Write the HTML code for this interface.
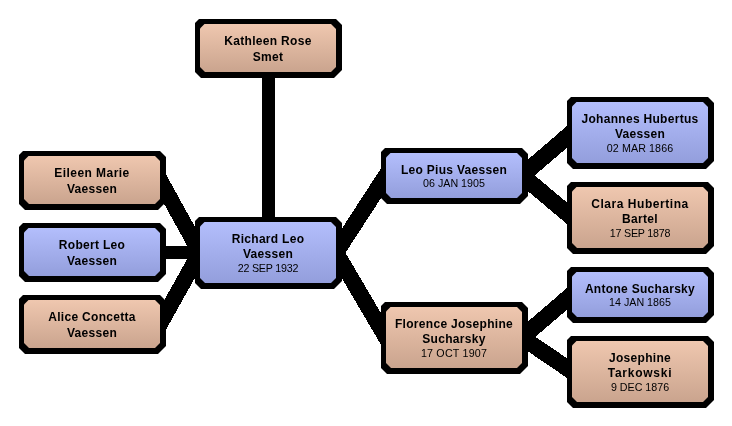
<!DOCTYPE html><html><head><meta charset="utf-8"><style>
html,body{margin:0;padding:0;background:#fff;width:732px;height:426px;overflow:hidden;position:relative}
svg{position:absolute;left:0;top:0}
.o{position:absolute;background:#000;clip-path:polygon(4px 0,calc(100% - 6px) 0,100% 6px,100% calc(100% - 8px),calc(100% - 8px) 100%,6px 100%,0 calc(100% - 6px),0 4px)}
.i{position:absolute;left:5px;top:5px;right:6px;bottom:6px;clip-path:polygon(4.5px 0,calc(100% - 5px) 0,100% 5px,100% calc(100% - 5px),calc(100% - 5px) 100%,5px 100%,0 calc(100% - 5px),0 4.5px);font-family:"Liberation Sans",sans-serif;color:#000}
.p{background:linear-gradient(#efc7af,#caa48e)}
.b{background:linear-gradient(#b3befc,#939edc)}
.t{position:absolute;left:0;right:0;text-align:center;white-space:nowrap;will-change:transform}
.n{font-weight:bold;font-size:12px;line-height:16px;letter-spacing:0.3px}
.d{font-size:10.7px;line-height:14px}
</style></head><body>
<svg width="732" height="426" viewBox="0 0 732 426" shape-rendering="crispEdges"><line x1="156.14" y1="173.00" x2="203.86" y2="259.50" stroke="#000" stroke-width="15.90"/><line x1="152.00" y1="251.90" x2="208.00" y2="252.60" stroke="#000" stroke-width="13.00"/><line x1="156.09" y1="330.98" x2="203.91" y2="245.52" stroke="#000" stroke-width="15.92"/><line x1="331.64" y1="259.21" x2="390.36" y2="168.79" stroke="#000" stroke-width="16.18"/><line x1="331.94" y1="245.60" x2="390.06" y2="344.40" stroke="#000" stroke-width="16.02"/><line x1="515.93" y1="180.72" x2="578.07" y2="127.28" stroke="#000" stroke-width="16.50"/><line x1="515.87" y1="170.35" x2="578.13" y2="222.65" stroke="#000" stroke-width="16.48"/><line x1="515.93" y1="342.72" x2="578.07" y2="289.28" stroke="#000" stroke-width="16.50"/><line x1="515.38" y1="333.00" x2="578.62" y2="376.00" stroke="#000" stroke-width="16.25"/><line x1="268.50" y1="40.00" x2="268.50" y2="260.50" stroke="#000" stroke-width="13.00"/></svg>
<div class="o" style="left:195px;top:19px;width:147px;height:59px"><div class="i p"><div class="t n" style="top:9.0px">Kathleen Rose</div><div class="t n" style="top:25.0px">Smet</div></div></div>
<div class="o" style="left:19px;top:151px;width:147px;height:59px"><div class="i p"><div class="t n" style="top:9.0px;letter-spacing:0.45px">Eileen Marie</div><div class="t n" style="top:25.0px">Vaessen</div></div></div>
<div class="o" style="left:19px;top:223px;width:147px;height:59px"><div class="i b"><div class="t n" style="top:9.0px">Robert Leo</div><div class="t n" style="top:25.0px">Vaessen</div></div></div>
<div class="o" style="left:19px;top:295px;width:147px;height:59px"><div class="i p"><div class="t n" style="top:9.0px">Alice Concetta</div><div class="t n" style="top:25.0px">Vaessen</div></div></div>
<div class="o" style="left:195px;top:217px;width:147px;height:72px"><div class="i b"><div class="t n" style="top:8.5px">Richard Leo</div><div class="t n" style="top:24.1px">Vaessen</div><div class="t d" style="top:38.6px;letter-spacing:-0.2px">22 SEP 1932</div></div></div>
<div class="o" style="left:381px;top:148px;width:147px;height:56px"><div class="i b"><div class="t n" style="top:8.8px">Leo Pius Vaessen</div><div class="t d" style="top:22.6px">06 JAN 1905</div></div></div>
<div class="o" style="left:381px;top:302px;width:147px;height:72px"><div class="i p"><div class="t n" style="top:8.5px">Florence Josephine</div><div class="t n" style="top:24.1px">Sucharsky</div><div class="t d" style="top:38.6px;letter-spacing:0.2px">17 OCT 1907</div></div></div>
<div class="o" style="left:567px;top:97px;width:147px;height:72px"><div class="i b"><div class="t n" style="top:8.5px">Johannes Hubertus</div><div class="t n" style="top:24.1px">Vaessen</div><div class="t d" style="top:38.6px;letter-spacing:0.1px">02 MAR 1866</div></div></div>
<div class="o" style="left:567px;top:182px;width:147px;height:72px"><div class="i p"><div class="t n" style="top:8.5px;letter-spacing:0.55px">Clara Hubertina</div><div class="t n" style="top:24.1px">Bartel</div><div class="t d" style="top:38.6px;letter-spacing:-0.22px">17 SEP 1878</div></div></div>
<div class="o" style="left:567px;top:267px;width:147px;height:56px"><div class="i b"><div class="t n" style="top:8.8px">Antone Sucharsky</div><div class="t d" style="top:22.6px">14 JAN 1865</div></div></div>
<div class="o" style="left:567px;top:336px;width:147px;height:72px"><div class="i p"><div class="t n" style="top:8.5px">Josephine</div><div class="t n" style="top:24.1px;letter-spacing:0.75px">Tarkowski</div><div class="t d" style="top:38.6px">9 DEC 1876</div></div></div>
</body></html>
